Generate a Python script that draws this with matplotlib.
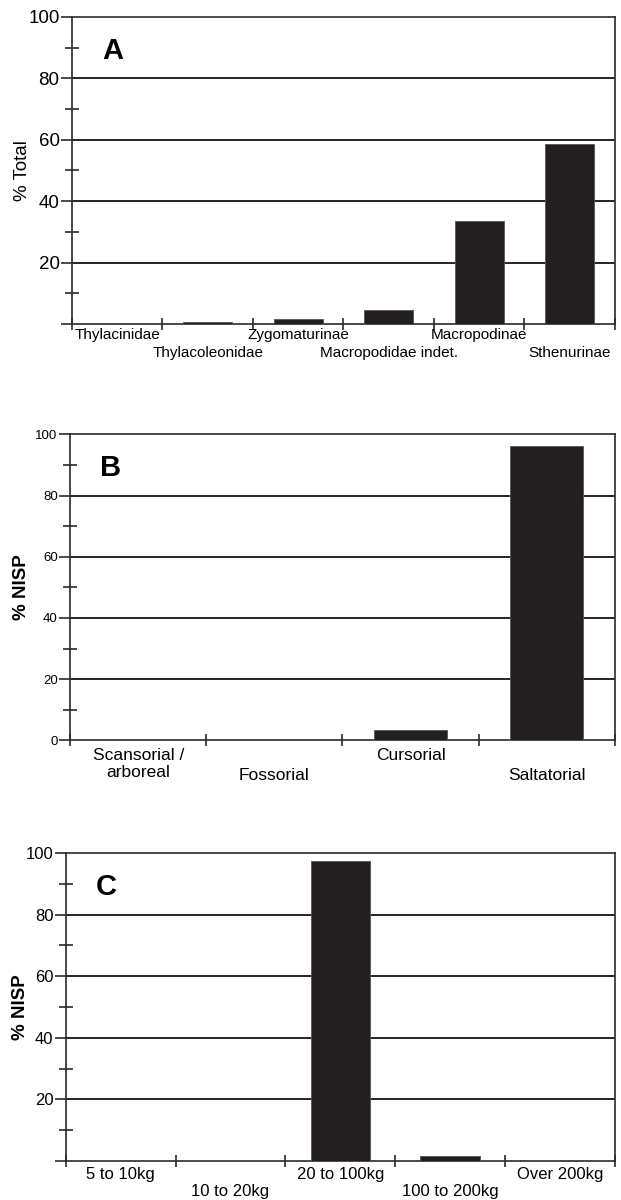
"""
Three stacked bar panels: taxa, locomotion and body-size classes
"""
import numpy as np
import matplotlib
matplotlib.use('Agg')
import matplotlib.pyplot as plt

plt.rcParams['font.family'] = ['Liberation Sans', 'DejaVu Sans']

# Panel A - % total by family / subfamily
taxa = ['Thylacinidae', 'Thylacoleonidae', 'Zygomaturinae',
        'Macropodidae indet.', 'Macropodinae', 'Sthenurinae']
taxa_pct = [0.3, 0.6, 1.7, 4.5, 33.4, 58.7]

# Panel B - % NISP by locomotion
locomotion = ['Scansorial /\narboreal', 'Fossorial', 'Cursorial', 'Saltatorial']
locomotion_pct = [0.0, 0.0, 3.3, 96.2]

# Panel C - % NISP by body size
size_classes = ['5 to 10kg', '10 to 20kg', '20 to 100kg', '100 to 200kg', 'Over 200kg']
size_pct = [0.0, 0.3, 97.4, 1.7, 0.0]

BAR = '#231f20'
LINE = '#2a2a2a'


def draw_panel(ax, labels, values, letter, ylabel, ylab_bold, tick_fs,
               lab_fs, ylab_x, stagger, show_zero, offs):
    n = len(values)
    x = np.arange(n)
    # gridlines behind bars
    for g in [20, 40, 60, 80]:
        ax.axhline(g, color='black', lw=1.2, zorder=1)
    ax.bar(x, values, width=0.54, color=BAR, edgecolor='#555555',
           linewidth=0.6, zorder=3)

    ax.set_xlim(-0.5, n - 0.5)
    ax.set_ylim(0, 100)

    # category boundaries carry the ticks, labels sit under the bar centres
    ax.set_xticks(np.arange(n + 1) - 0.5)
    ax.set_xticklabels([])
    ax.tick_params(axis='x', which='major', direction='inout', length=8,
                   width=1.2, color=LINE)
    for i, lab in enumerate(labels):
        dy = offs[1] if stagger[i] else offs[0]
        ax.annotate(lab, xy=(x[i], 0), xycoords=('data', 'axes fraction'),
                    xytext=(0, -dy), textcoords='offset points',
                    ha='center', va='top', fontsize=lab_fs,
                    linespacing=1.15, annotation_clip=False)

    ax.set_yticks([0, 20, 40, 60, 80, 100])
    if show_zero:
        ax.set_yticklabels(['0', '20', '40', '60', '80', '100'])
    else:
        ax.set_yticklabels(['', '20', '40', '60', '80', '100'])
    ax.set_yticks([10, 30, 50, 70, 90], minor=True)
    ax.tick_params(axis='y', which='major', direction='out', length=8,
                   width=1.2, color=LINE, labelsize=tick_fs, pad=1)
    ax.tick_params(axis='y', which='minor', direction='inout', length=10,
                   width=1.2, color=LINE)

    for s in ax.spines.values():
        s.set_linewidth(1.2)
        s.set_color(LINE)

    ax.set_ylabel(ylabel, fontsize=13.5,
                  fontweight='bold' if ylab_bold else 'normal')
    ax.yaxis.set_label_coords(ylab_x, 0.5)
    ax.text(0.055, 0.89, letter, transform=ax.transAxes, fontsize=21,
            fontweight='bold', ha='left', va='center')


fig = plt.figure(figsize=(6.21, 12), dpi=100)

axA = fig.add_axes([0.116, 0.730, 0.874, 0.256])
draw_panel(axA, taxa, taxa_pct, 'A', '% Total', False, 13.5, 11, -0.075,
           [False, True, False, True, False, True], False, (3, 15.5))

axB = fig.add_axes([0.113, 0.383, 0.877, 0.255])
draw_panel(axB, locomotion, locomotion_pct, 'B', '% NISP', True, 9.5, 12.5,
           -0.073, [False, True, False, True], True, (5.5, 20))

axC = fig.add_axes([0.106, 0.0325, 0.884, 0.2567])
draw_panel(axC, size_classes, size_pct, 'C', '% NISP', True, 12, 12, -0.067,
           [False, True, False, True, False], False, (4.5, 16.5))

fig.savefig('out.png', dpi=100)
